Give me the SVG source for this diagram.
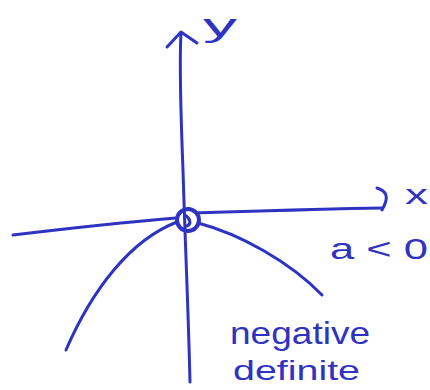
<svg xmlns="http://www.w3.org/2000/svg" width="430" height="390" viewBox="0 0 430 390">
<style>
.ink{fill:none;stroke:#2f33c2;stroke-width:3;stroke-linecap:round;stroke-linejoin:round}
.lbl{fill:#2f33c2;font-family:"Liberation Sans","DejaVu Sans",sans-serif}
</style>
<rect width="430" height="390" fill="#ffffff"/>
<g id="axes">
<path class="ink" d="M190,382 C188,300 185,240 183,170 C181,120 179,70 181,33"/>
<path class="ink" d="M167,47 L181,32 L197,43"/>
<path class="ink" d="M13,235 C80,227 140,221 176,218 M196,213 C260,211 320,209 382,208"/>
<path class="ink" d="M377,188 C386,191 390,196 382,210"/>
</g>
<g id="origin">
<circle cx="188" cy="220" r="11" fill="none" stroke="#2f33c2" stroke-width="4"/>
<path class="ink" d="M185,215 C190,218 192,224 187,226" stroke-width="2"/>
</g>
<g id="curves">
<path class="ink" d="M177,222 C130,240 92,290 66,350"/>
<path class="ink" d="M198,223 C240,234 290,262 322,295"/>
</g>
<g id="labels">
<text class="lbl" x="203" y="36" font-size="32" textLength="34" lengthAdjust="spacingAndGlyphs">y</text>
<text class="lbl" x="405" y="204" font-size="28" textLength="23" lengthAdjust="spacingAndGlyphs">x</text>
<text class="lbl" x="330" y="259" font-size="30" textLength="98" lengthAdjust="spacingAndGlyphs">a &lt; 0</text>
<text class="lbl" x="230" y="344" font-size="32" textLength="140" lengthAdjust="spacingAndGlyphs">negative</text>
<text class="lbl" x="233" y="380" font-size="28" textLength="127" lengthAdjust="spacingAndGlyphs">definite</text>
</g>
</svg>
